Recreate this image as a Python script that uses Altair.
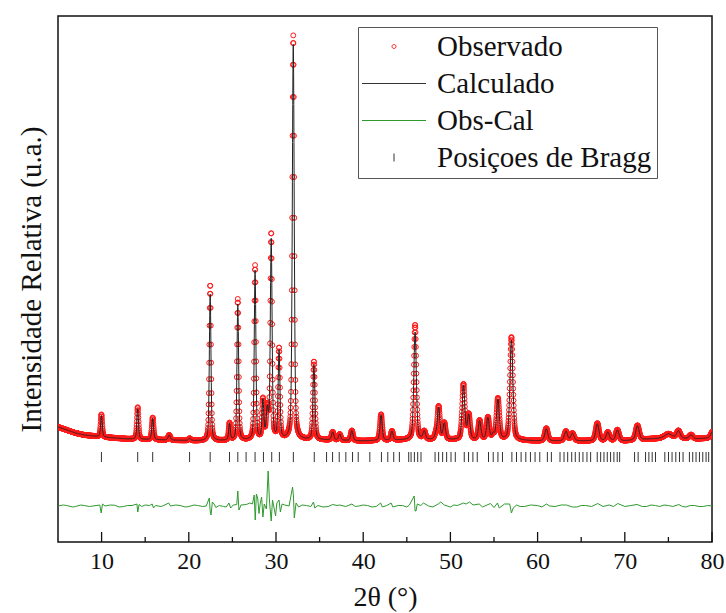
import altair as alt
import numpy as np
import pandas as pd

# ---- data ----
# background (2theta, counts)
bg_x = [5.0, 6.0, 7.0, 8.0, 10.0, 13.0, 17.0, 22.0, 26.0, 30.0, 35.0, 40.0, 45.0, 50.0, 55.0, 60.0, 65.0, 70.0, 73.0, 75.0, 78.0, 80.0]
bg_y = [760, 700, 640, 600, 560, 520, 500, 480, 490, 500, 500, 480, 500, 500, 500, 480, 480, 480, 520, 540, 520, 540]

# reflections: position, calculated height, observed height, FWHM
peak_pos = [9.98, 14.14, 15.86, 17.75, 20.1, 22.45, 24.67, 25.62, 27.6, 28.5, 29.0, 29.45, 30.35,
            31.98, 34.35, 36.5, 37.3, 38.7, 42.05, 43.3, 45.95, 47.0, 48.3, 48.65, 49.3,
            51.5, 52.1, 53.35, 54.3, 54.9, 55.45, 57.0, 61.0, 63.25, 64.0, 66.85, 68.05,
            69.15, 71.45, 75.0, 76.15, 77.6, 80.1]
calc_h = [430, 610, 430, 100, 40, 2950, 330, 2720, 3380, 760, 560, 4000, 1760,
          7900, 1500, 160, 120, 200, 510, 180, 2160, 160, 80, 640, 320,
          1080, 480, 370, 430, 100, 800, 2000, 240, 190, 150, 340, 170,
          215, 285, 80, 150, 80, 140]
obs_h = [450, 640, 440, 100, 40, 3120, 340, 2820, 3480, 780, 600, 4100, 1800,
         8080, 1560, 160, 120, 200, 520, 180, 2300, 160, 80, 660, 330,
         1100, 490, 380, 440, 100, 820, 2060, 250, 190, 150, 350, 170,
         220, 290, 80, 150, 80, 140]
peak_fwhm = [0.22, 0.22, 0.24, 0.3, 0.3, 0.22, 0.22, 0.22, 0.22, 0.24, 0.3, 0.24, 0.24,
             0.26, 0.26, 0.3, 0.3, 0.3, 0.3, 0.3, 0.34, 0.34, 0.3, 0.34, 0.34,
             0.36, 0.36, 0.36, 0.36, 0.3, 0.38, 0.4, 0.4, 0.42, 0.42, 0.44, 0.44,
             0.44, 0.46, 1.0, 0.48, 0.48, 0.5]

# difference curve Obs-Cal (2theta, counts)
diff_x = [5.0, 5.6, 6.0, 6.7, 7.0, 7.6, 8.0, 8.6, 9.0, 9.8, 9.95, 10.1, 10.4, 11.0, 11.5, 12.0, 12.5, 13.0, 13.5,
          14.05, 14.15, 14.3, 14.6, 15.0, 15.5, 15.8, 15.95, 16.2, 16.8, 17.0, 17.7, 17.9, 18.5, 19.0, 19.6, 20.0,
          20.6, 21.0, 21.6, 22.0, 22.35, 22.45, 22.55, 22.7, 22.9, 23.1, 23.5, 24.0, 24.3, 24.6, 24.8, 25.1,
          25.5, 25.62, 25.75, 26.0, 26.6, 27.0, 27.3, 27.5, 27.62, 27.75, 27.9, 28.05, 28.2, 28.35, 28.5,
          28.65, 28.9, 29.1, 29.25, 29.45, 29.6, 29.8, 29.95, 30.1, 30.35, 30.5, 30.7, 31.0, 31.5, 31.9,
          32.0, 32.1, 32.3, 32.6, 33.0, 33.5, 34.0, 34.3, 34.45, 34.8, 35.4, 36.0, 36.5, 37.0, 37.3, 38.0,
          38.7, 39.1, 39.5, 40.0, 40.5, 41.0, 41.5, 42.0, 42.2, 42.7, 43.2, 43.4, 44.0, 44.5, 45.0, 45.3,
          45.85, 45.95, 46.05, 46.2, 46.6, 46.9, 47.5, 48.0, 48.6, 48.9, 49.3, 50.0, 50.4, 50.8, 51.5,
          51.8, 52.2, 52.6, 53.3, 53.7, 54.2, 54.6, 55.0, 55.4, 55.6, 56.2, 56.8, 57.0, 57.2, 57.6, 58.0,
          58.5, 59.2, 60.0, 60.5, 61.0, 61.4, 62.0, 62.7, 63.3, 64.0, 64.5, 65.0, 65.5, 66.2, 66.9, 67.5,
          68.2, 68.7, 69.2, 70.0, 70.7, 71.4, 72.0, 72.5, 73.0, 73.5, 74.0, 74.5, 75.0, 75.5, 76.2, 76.6,
          77.0, 77.5, 78.0, 78.5, 79.0, 79.5, 80.0]
diff_y = [0, 20, 10, -20, -10, 20, 10, -10, 0, 20, -140, 40, 0, 20, 15, -20, -10, 10, 10,
          40, -120, 30, -10, 20, 10, 40, -40, 10, -10, 0, 60, 0, 20, 10, -20, -10,
          20, 10, -10, 0, 160, -100, -180, 80, 40, -30, 10, -10, -20, 60, -40, 20,
          30, 300, -80, 20, 30, 60, 40, 220, -280, 240, 160, -150, 60, 180, -220,
          40, -60, 700, 100, -300, 120, -60, -200, 60, 120, -120, 40, 20, 0, 380,
          200, -240, 60, -20, 20, 10, -10, 80, -40, 10, -20, -10, 30, 10, 20, -10,
          40, -10, 0, 20, 10, -20, -10, 60, -20, 10, 60, -20, 10, 10, -20, 20,
          200, -100, -100, 40, 10, 60, 0, -20, 40, 80, 20, -20, 20, 10, 60,
          40, 80, 20, 40, -20, 20, 50, -30, 60, -40, 40, 40, -140, -40, 20, -10,
          -10, 20, 10, -20, 40, 0, -10, 20, 20, -20, -20, 10, 10, -10, 50, -10,
          20, -10, 50, -10, 10, 30, -10, -10, 20, 10, -10, 20, 10, -10, 30, -10,
          -20, 10, 10, -10, -10, 10, 0]

# Bragg positions
bragg = [9.98, 14.14, 15.86, 20.09, 22.45, 24.67, 25.62, 26.57, 27.6, 28.56, 29.51, 30.39, 31.99,
         34.39, 35.8, 36.49, 37.25, 38.01, 38.78, 39.43, 40.76, 42.09, 42.82, 43.5, 44.15, 45.22,
         45.49, 45.87, 46.25, 46.63, 48.24, 48.65, 49.11, 49.57, 50.07, 50.56, 51.59, 52.08, 52.58,
         53.08, 54.37, 54.91, 55.45, 55.97, 57.05, 57.58, 58.11, 58.65, 59.18, 59.71, 60.25, 61.12,
         61.58, 62.57, 63.03, 63.45, 63.91, 64.32, 64.78, 65.2, 65.66, 66.08, 66.84, 67.23, 67.61,
         67.99, 68.37, 68.75, 69.13, 69.41, 71.12, 71.53, 72.38, 72.76, 73.14, 73.52, 74.59, 75.01,
         75.42, 75.85, 76.27, 76.68, 77.41, 77.79, 78.17, 78.56, 78.94, 79.32, 79.62]

x_major = [10, 20, 30, 40, 50, 60, 70, 80]
x_minor = [15, 25, 35, 45, 55, 65, 75]
series = ["Observado", "Calculado", "Obs-Cal", "Posiçoes de Bragg"]
series_colors = ["#ff1a1a", "#333333", "#2e9a2e", "#333333"]

# ---- build profile table ----
tt = np.round(np.arange(5.0, 80.0001, 0.02), 3)
bg = np.interp(tt, bg_x, bg_y)


def profile(heights):
    y = bg.copy()
    for p, h, w in zip(peak_pos, heights, peak_fwhm):
        d = (tt - p) / (w / 2)
        y = y + h * (0.6 * np.exp(-np.log(2) * d * d) + 0.4 / (1 + d * d))
    return y


df = pd.DataFrame({"t": tt, "obs": profile(obs_h), "calc": profile(calc_h)})
ddf = pd.DataFrame({"t": diff_x, "d": diff_y})
bdf = pd.DataFrame({"t": bragg})
majdf = pd.DataFrame({"t": x_major})
mindf = pd.DataFrame({"t": x_minor})
legdf = pd.DataFrame({"serie": series})

FONT = "Liberation Serif"
W, H = 654, 526
xs = alt.Scale(domain=[5, 80], nice=False, zero=False)
ys = alt.Scale(domain=[-1540, 8980], nice=False, zero=False)

x_axis = alt.Axis(values=x_major, title="2θ (°)", ticks=False, tickSize=0, domain=False, grid=False,
                  labelPadding=7, titlePadding=10, labelFlush=False)
y_axis = alt.Axis(title="Intensidade Relativa (u.a.)", labels=False, ticks=False, tickSize=0, domain=False,
                  grid=False, titlePadding=12)

X = alt.X("t:Q", scale=xs, axis=x_axis)

# custom legend symbols (unit = sqrt(size)/2 px)
circ = "M7.4,0A0.8,0.8 0 1,1 5.8,0A0.8,0.8 0 1,1 7.4,0Z"
hline = "M-6.2,0L19.4,0"
vtick = "M6.6,-1.6L6.6,1.6"

legend = alt.Legend(title=None, orient="none", legendX=300, legendY=11, padding=5,
                    strokeColor="#555", fillColor="white", labelFont=FONT, labelFontSize=29,
                    labelColor="#111", labelOffset=45, labelLimit=500, rowPadding=7, symbolSize=25,
                    symbolStrokeWidth=1)

obs = alt.Chart(df).mark_point(filled=False, size=24, strokeWidth=1, color="#ff1a1a", opacity=1,
                               clip=True).encode(
    x=X, y=alt.Y("obs:Q", scale=ys, axis=y_axis),
)

calc = alt.Chart(df).mark_line(color="#222222", strokeWidth=1, clip=True).encode(
    x=X, y=alt.Y("calc:Q", scale=ys, axis=y_axis),
)

diff = alt.Chart(ddf).transform_calculate(yd="datum.d - 820").mark_line(
    color="#2e9a2e", strokeWidth=1, clip=True).encode(
    x=X, y=alt.Y("yd:Q", scale=ys, axis=y_axis),
)

br = alt.Chart(bdf).mark_rule(color="#333333", strokeWidth=1).encode(
    x=X, y=alt.datum(60, scale=ys), y2=alt.datum(260),
)

tmaj = alt.Chart(majdf).mark_rule(color="#111", strokeWidth=1.3).encode(
    x=X, y=alt.value(H), y2=alt.value(H - 10))
tmin = alt.Chart(mindf).mark_rule(color="#111", strokeWidth=1.3).encode(
    x=X, y=alt.value(H), y2=alt.value(H - 5))

# legend proxy: invisible marks, the legend is built from the colour / shape scales
leg = alt.Chart(legdf).mark_point(filled=False, size=0, opacity=1).encode(
    x=alt.value(0), y=alt.value(0),
    color=alt.Color("serie:N", scale=alt.Scale(domain=series, range=series_colors), legend=legend),
    shape=alt.Shape("serie:N", scale=alt.Scale(domain=series, range=[circ, hline, hline, vtick]),
                    legend=legend),
)

chart = alt.layer(obs, calc, diff, br, tmaj, tmin, leg).properties(
    width=W, height=H,
    autosize=alt.AutoSizeParams(type="none"),
    padding={"left": 58, "top": 16, "right": 14, "bottom": 71},
    background="white",
).configure_view(stroke="#111", strokeWidth=1.5).configure_axis(
    labelFont=FONT, labelFontSize=24, labelColor="#111",
    titleFont=FONT, titleFontSize=28, titleFontWeight="normal", titleColor="#111",
).configure_axisLeft(titleFontSize=29)

chart.save("out.html", embed_options={"renderer": "svg", "actions": False})
